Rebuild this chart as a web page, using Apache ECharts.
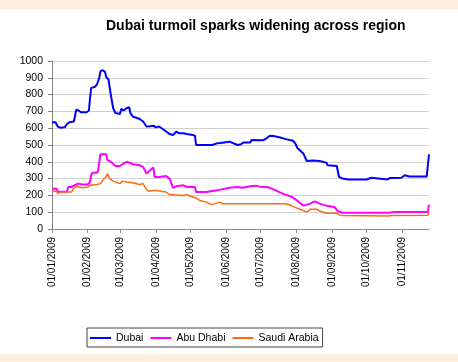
<!DOCTYPE html>
<html>
<head>
<meta charset="utf-8">
<script src="https://cdn.jsdelivr.net/npm/echarts@6/dist/echarts.min.js"></script>
<style>
html,body{margin:0;padding:0;background:#fcefdf;}
#chart{width:458px;height:362px;}
</style>
</head>
<body>
<div id="chart"></div>
<script>
const titleText = 'Dubai turmoil sparks widening across region';
const seriesNames = ['Dubai', 'Abu Dhabi', 'Saudi Arabia'];
const tickMonths = ['2009-01-01','2009-02-01','2009-03-01','2009-04-01','2009-05-01','2009-06-01','2009-07-01','2009-08-01','2009-09-01','2009-10-01','2009-11-01'];
const yTicks = [0,100,200,300,400,500,600,700,800,900,1000];

const dubai = [
 ['2009-01-01',635],['2009-01-04',635],['2009-01-06',610],['2009-01-08',603],['2009-01-12',605],['2009-01-14',625],
 ['2009-01-16',635],['2009-01-20',640],['2009-01-21',650],['2009-01-22',710],['2009-01-24',705],['2009-01-26',695],
 ['2009-01-31',695],['2009-02-02',705],['2009-02-03',780],['2009-02-04',840],['2009-02-07',845],['2009-02-09',860],
 ['2009-02-11',900],['2009-02-12',940],['2009-02-14',945],['2009-02-16',935],['2009-02-17',905],['2009-02-19',890],
 ['2009-02-21',800],['2009-02-23',720],['2009-02-25',690],['2009-03-01',685],['2009-03-02',715],['2009-03-04',705],
 ['2009-03-07',720],['2009-03-09',725],['2009-03-10',690],['2009-03-12',670],['2009-03-18',655],['2009-03-21',640],
 ['2009-03-24',610],['2009-03-25',600],['2009-03-27',612],['2009-03-30',615],['2009-04-01',605],['2009-04-04',610],
 ['2009-04-07',595],['2009-04-10',580],['2009-04-13',565],['2009-04-16',560],['2009-04-19',580],['2009-04-21',570],
 ['2009-04-25',570],['2009-04-28',565],['2009-05-03',560],['2009-05-05',555],['2009-05-06',500],['2009-05-20',500],
 ['2009-05-24',510],['2009-05-27',512],['2009-06-04',520],['2009-06-11',500],['2009-06-14',505],['2009-06-16',515],
 ['2009-06-22',515],['2009-06-23',530],['2009-07-03',528],['2009-07-06',540],['2009-07-09',555],['2009-07-12',553],
 ['2009-07-18',545],['2009-07-23',535],['2009-07-29',525],['2009-07-31',510],['2009-08-02',480],['2009-08-07',450],
 ['2009-08-10',405],['2009-08-15',408],['2009-08-21',405],['2009-08-27',395],['2009-08-28',380],['2009-09-05',375],
 ['2009-09-07',310],['2009-09-10',300],['2009-09-15',295],['2009-10-01',295],['2009-10-02',305],['2009-10-05',305],
 ['2009-10-06',295],['2009-10-19',295],['2009-10-21',303],['2009-10-31',305],['2009-11-03',320],['2009-11-07',312],
 ['2009-11-22',312],['2009-11-23',320],['2009-11-24',445]
];
const abuDhabi = [
 ['2009-01-01',240],['2009-01-05',240],['2009-01-06',222],['2009-01-14',222],['2009-01-15',250],['2009-01-18',250],
 ['2009-01-19',260],['2009-01-22',265],['2009-01-24',270],['2009-01-27',265],['2009-02-01',265],['2009-02-03',280],
 ['2009-02-04',320],['2009-02-05',335],['2009-02-09',335],['2009-02-10',350],['2009-02-12',445],['2009-02-17',445],
 ['2009-02-18',410],['2009-02-20',405],['2009-02-22',395],['2009-02-25',375],['2009-03-01',375],['2009-03-04',390],
 ['2009-03-07',400],['2009-03-09',395],['2009-03-12',385],['2009-03-18',380],['2009-03-21',370],['2009-03-24',330],
 ['2009-03-25',340],['2009-03-28',355],['2009-03-30',365],['2009-03-31',310],['2009-04-04',310],['2009-04-10',315],
 ['2009-04-13',300],['2009-04-16',245],['2009-04-19',255],['2009-04-25',260],['2009-04-28',250],['2009-05-05',250],
 ['2009-05-06',220],['2009-05-15',220],['2009-05-24',230],['2009-06-04',245],['2009-06-11',250],['2009-06-15',245],
 ['2009-06-22',255],['2009-06-27',258],['2009-06-30',252],['2009-07-01',245],['2009-07-06',250],['2009-07-09',245],
 ['2009-07-15',227],['2009-07-22',205],['2009-07-28',191],['2009-08-02',167],['2009-08-07',139],['2009-08-13',151],
 ['2009-08-17',165],['2009-08-21',151],['2009-08-27',139],['2009-09-03',131],['2009-09-06',106],['2009-09-10',97],
 ['2009-10-20',97],['2009-10-25',101],['2009-11-23',101],['2009-11-24',145]
];
const saudiArabia = [
 ['2009-01-01',225],['2009-01-05',225],['2009-01-06',210],['2009-01-08',220],['2009-01-18',220],['2009-01-19',235],
 ['2009-01-22',255],['2009-01-27',245],['2009-02-01',250],['2009-02-03',260],['2009-02-09',265],['2009-02-12',270],
 ['2009-02-14',290],['2009-02-17',310],['2009-02-18',330],['2009-02-20',300],['2009-02-23',285],['2009-03-01',270],
 ['2009-03-03',285],['2009-03-07',280],['2009-03-12',275],['2009-03-18',265],['2009-03-21',270],['2009-03-24',235],
 ['2009-03-26',225],['2009-03-31',230],['2009-04-10',220],['2009-04-13',205],['2009-04-25',200],['2009-04-28',205],
 ['2009-05-01',195],['2009-05-06',185],['2009-05-09',170],['2009-05-15',160],['2009-05-19',145],['2009-05-20',155],
 ['2009-05-27',160],['2009-05-29',150],['2009-07-23',150],['2009-07-24',145],['2009-07-28',138],['2009-08-02',123],
 ['2009-08-07',110],['2009-08-10',100],['2009-08-13',117],['2009-08-19',117],['2009-08-21',107],['2009-08-27',94],
 ['2009-09-05',94],['2009-09-07',84],['2009-09-10',80],['2009-10-20',77],['2009-10-22',80],['2009-11-23',82],
 ['2009-11-24',97]
];

function toTime(s){ const p = s.split('-').map(Number); return Date.UTC(p[0], p[1]-1, p[2]); }
function pad(n){ return (n<10?'0':'')+n; }
function conv(arr){ return arr.map(function(d){ return [toTime(d[0]), d[1]]; }); }
const tickValues = tickMonths.map(toTime);
const font = '"Liberation Sans", Arial, sans-serif';

const chart = echarts.init(document.getElementById('chart'), null, {renderer:'canvas'});
chart.setOption({
  backgroundColor: '#fcefdf',
  animation: false,
  graphic: [{type:'rect', shape:{x:0,y:9,width:458,height:345}, style:{fill:'#ffffff'}, z:-10, silent:true}],
  title: {
    text: titleText, left: 106, top: 19, padding: 0,
    textStyle: {fontFamily: font, fontSize: 14, fontWeight: 'bold', color: '#000'}
  },
  legend: {
    data: seriesNames, left: 87, top: 328, orient: 'horizontal', icon: 'rect',
    padding: [4, 4, 3, 3], itemGap: 7, itemWidth: 21, itemHeight: 2,
    borderColor: '#444', borderWidth: 1, backgroundColor: '#fff',
    textStyle: {fontFamily: font, fontSize: 10.5, color: '#000', lineHeight: 12}
  },
  grid: {left: 52, right: 29, top: 61, bottom: 133, containLabel: false},
  xAxis: {
    type: 'value', min: toTime('2009-01-01'), max: toTime('2009-11-24'),
    axisLine: {show: true, lineStyle: {color: '#8c8c8c', width: 1}},
    axisTick: {show: true, length: 4, customValues: tickValues, lineStyle: {color: '#8c8c8c'}},
    axisLabel: {
      customValues: tickValues, rotate: 90, margin: 8, color: '#000',
      fontFamily: font, fontSize: 10,
      formatter: function(v){ const d = new Date(v); return pad(d.getUTCDate())+'/'+pad(d.getUTCMonth()+1)+'/'+d.getUTCFullYear(); }
    },
    splitLine: {show: false}
  },
  yAxis: {
    type: 'value', min: yTicks[0], max: yTicks[yTicks.length-1], interval: 100,
    axisLine: {show: true, lineStyle: {color: '#808080', width: 1}},
    axisTick: {show: true, length: 4, lineStyle: {color: '#808080'}},
    axisLabel: {margin: 9, color: '#000', fontFamily: font, fontSize: 10.5,
      formatter: function(v){ return String(v); }},
    splitLine: {show: true, lineStyle: {color: '#d0d0d0', width: 1}}
  },
  series: [
    {name: seriesNames[0], type: 'line', data: conv(dubai), symbol: 'none', lineStyle: {color: '#0000ff', width: 2}, itemStyle:{color:'#0000ff'}},
    {name: seriesNames[1], type: 'line', data: conv(abuDhabi), symbol: 'none', lineStyle: {color: '#ff00ff', width: 2}, itemStyle:{color:'#ff00ff'}},
    {name: seriesNames[2], type: 'line', data: conv(saudiArabia), symbol: 'none', lineStyle: {color: '#ff6a10', width: 1.5}, itemStyle:{color:'#ff6a10'}}
  ]
});
</script>
</body>
</html>
